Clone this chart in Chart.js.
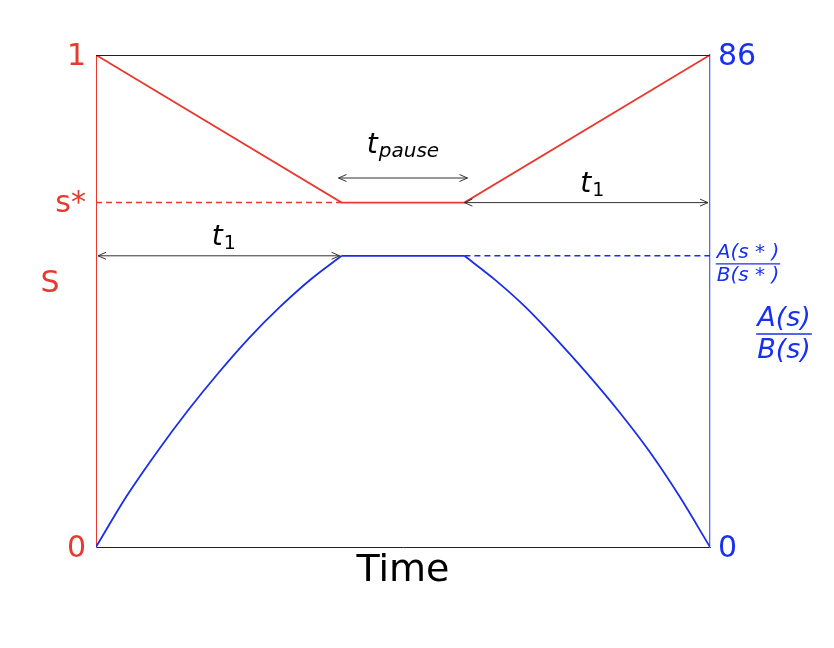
<!DOCTYPE html>
<html>
<head>
<meta charset="utf-8">
<script src="https://cdn.jsdelivr.net/npm/chart.js@4.4.1/dist/chart.umd.min.js"></script>
<style>
  html, body { margin: 0; padding: 0; background: #fff; }
  canvas { display: block; }
</style>
</head>
<body>
<canvas id="chart" width="834" height="648"></canvas>
<script>
"use strict";

// time in arbitrary units: t1 = 4, pause = 2, total = 10
const timeS = [0, 4, 6, 10];
const sValues = [1, 0.7, 0.7, 1];

const timeRatio = [0, 0.5, 1, 1.5, 2, 2.5, 3, 3.5, 4, 6, 6.5, 7, 7.5, 8, 8.5, 9, 9.5, 10];
const ratioValues = [0, 8.9, 16.7, 23.9, 30.5, 36.6, 42.0, 46.8, 50.9, 50.9, 46.7, 41.9, 36.3, 30.3, 23.9, 16.9, 8.9, 0];

const sStar = 0.7;
const ratioStar = 50.9;
const ratioMax = 86;
const t1 = 4;
const tPause = 2;
const tEnd = 10;

const leftTicks = [0, sStar, 1];
const leftTickLabels = ['0', 's*', '1'];
const rightTicks = [0, ratioStar, ratioMax];
const rightTickLabels = ['0', '', '86'];

const RED = '#e8392e';
const BLUE = '#1a2ee8';
const BLUE_TEXT = '#1830f0';

function pts(xs, ys) {
  return xs.map((x, i) => ({ x: x, y: ys[i] }));
}

// split the A/B curve: rising part, plateau, falling part
const riseEnd = timeRatio.indexOf(t1);
const fallStart = timeRatio.indexOf(t1 + tPause);
const ratioRise = pts(timeRatio.slice(0, riseEnd + 1), ratioValues.slice(0, riseEnd + 1));
const ratioFlat = pts(timeRatio.slice(riseEnd, fallStart + 1), ratioValues.slice(riseEnd, fallStart + 1));
const ratioFall = pts(timeRatio.slice(fallStart), ratioValues.slice(fallStart));

function arrow(ctx, x1, x2, y) {
  ctx.save();
  ctx.strokeStyle = '#333';
  ctx.lineWidth = 1;
  ctx.beginPath();
  ctx.moveTo(x1, y); ctx.lineTo(x2, y);
  ctx.moveTo(x1 + 8, y - 3.5); ctx.lineTo(x1, y); ctx.lineTo(x1 + 8, y + 3.5);
  ctx.moveTo(x2 - 8, y - 3.5); ctx.lineTo(x2, y); ctx.lineTo(x2 - 8, y + 3.5);
  ctx.stroke();
  ctx.restore();
}

// italic t with a subscript, centred on cx
function tLabel(ctx, sub, cx, baseline, subFont) {
  ctx.save();
  ctx.fillStyle = '#000';
  ctx.textBaseline = 'alphabetic';
  ctx.textAlign = 'left';
  ctx.font = 'italic 28px "DejaVu Sans"';
  const w1 = ctx.measureText('t').width;
  ctx.font = subFont;
  const w2 = ctx.measureText(sub).width;
  const x0 = cx - (w1 + w2 + 1) / 2;
  ctx.font = 'italic 28px "DejaVu Sans"';
  ctx.fillText('t', x0, baseline);
  ctx.font = subFont;
  ctx.fillText(sub, x0 + w1 + 1, baseline + 4);
  ctx.restore();
}

function fraction(ctx, num, den, cx, barY, size, color) {
  ctx.save();
  ctx.fillStyle = color;
  ctx.strokeStyle = color;
  ctx.font = 'italic ' + size + 'px "DejaVu Sans"';
  ctx.textAlign = 'center';
  const w = Math.max(ctx.measureText(num).width, ctx.measureText(den).width);
  ctx.lineWidth = size > 22 ? 1.6 : 1.3;
  ctx.beginPath();
  ctx.moveTo(cx - w / 2 - 1, barY); ctx.lineTo(cx + w / 2 + 1, barY);
  ctx.stroke();
  ctx.textBaseline = 'alphabetic';
  ctx.fillText(num, cx, barY - size * 0.3);
  ctx.textBaseline = 'top';
  ctx.fillText(den, cx, barY + size * 0.12);
  ctx.restore();
}

const extras = {
  id: 'extras',
  afterDatasetsDraw(chart) {
    const ctx = chart.ctx;
    const xs = chart.scales.x, ys = chart.scales.y, yr = chart.scales.y1;
    const area = chart.chartArea;

    // top frame line
    ctx.save();
    ctx.strokeStyle = '#222';
    ctx.lineWidth = 1;
    ctx.beginPath();
    ctx.moveTo(area.left, area.top + 0.5);
    ctx.lineTo(area.right, area.top + 0.5);
    ctx.stroke();
    ctx.restore();

    // duration arrows
    const yLeft = yr.getPixelForValue(ratioStar);
    arrow(ctx, xs.getPixelForValue(0) + 2, xs.getPixelForValue(t1) - 2, yLeft);
    const yRight = ys.getPixelForValue(sStar);
    arrow(ctx, xs.getPixelForValue(t1 + tPause), xs.getPixelForValue(tEnd) - 2, yRight);
    const yPause = ys.getPixelForValue(0.75);
    arrow(ctx, xs.getPixelForValue(t1 - 0.05), xs.getPixelForValue(t1 + tPause + 0.05), yPause);

    const subDigit = '19px "DejaVu Sans"';
    tLabel(ctx, '1', xs.getPixelForValue(t1 / 2) + 5, yLeft - 11, subDigit);
    tLabel(ctx, '1', xs.getPixelForValue(t1 + tPause + (tEnd - t1 - tPause) / 2) + 5, yRight - 11, subDigit);
    tLabel(ctx, 'pause', xs.getPixelForValue(t1 + tPause / 2), yPause - 25, 'italic 20px "DejaVu Sans"');

    // right side fractions
    fraction(ctx, 'A(s * )', 'B(s * )', 748, yr.getPixelForValue(ratioStar) + 8, 20, BLUE_TEXT);
    fraction(ctx, 'A(s)', 'B(s)', 784, 334, 27, BLUE_TEXT);

    // axis titles
    ctx.save();
    ctx.textAlign = 'center';
    ctx.textBaseline = 'middle';
    ctx.fillStyle = RED;
    ctx.font = '30px "DejaVu Sans"';
    ctx.fillText('S', 50, 284);
    ctx.fillStyle = '#000';
    ctx.font = '38px "DejaVu Sans"';
    ctx.fillText('Time', (area.left + area.right) / 2, 571);
    ctx.restore();
  }
};

const curveStyle = {
  yAxisID: 'y1',
  borderColor: BLUE,
  borderWidth: 1.8,
  pointRadius: 0,
  cubicInterpolationMode: 'monotone'
};

new Chart(document.getElementById('chart'), {
  type: 'line',
  data: {
    datasets: [
      {
        label: 's',
        data: pts(timeS, sValues),
        yAxisID: 'y',
        borderColor: RED,
        borderWidth: 1.8,
        pointRadius: 0,
        tension: 0
      },
      {
        label: 's* level',
        data: pts([0, t1], [sStar, sStar]),
        yAxisID: 'y',
        borderColor: RED,
        borderWidth: 1.5,
        borderDash: [6, 4],
        pointRadius: 0
      },
      Object.assign({ label: 'A(s)/B(s) rise', data: ratioRise }, curveStyle),
      Object.assign({ label: 'A(s)/B(s) pause', data: ratioFlat }, curveStyle),
      Object.assign({ label: 'A(s)/B(s) fall', data: ratioFall }, curveStyle),
      {
        label: 'A(s*)/B(s*) level',
        data: pts([t1 + tPause, tEnd], [ratioStar, ratioStar]),
        yAxisID: 'y1',
        borderColor: BLUE,
        borderWidth: 1.5,
        borderDash: [6, 4],
        pointRadius: 0
      }
    ]
  },
  options: {
    responsive: false,
    animation: false,
    devicePixelRatio: 1,
    layout: { padding: { top: 55, left: 0, right: 0, bottom: 0 } },
    plugins: {
      legend: { display: false },
      tooltip: { enabled: false }
    },
    scales: {
      x: {
        type: 'linear',
        min: 0,
        max: tEnd,
        grid: { display: false, drawTicks: false },
        border: { color: '#222', width: 1 },
        ticks: { display: false },
        afterFit(scale) { scale.height = 101; }
      },
      y: {
        position: 'left',
        min: 0,
        max: 1,
        grid: { display: false, drawTicks: false },
        border: { color: RED, width: 1 },
        afterBuildTicks(scale) { scale.ticks = leftTicks.map(v => ({ value: v })); },
        ticks: {
          color: RED,
          padding: 10,
          labelOffset: 2,
          font: { family: 'DejaVu Sans', size: 30 },
          callback: (v) => leftTickLabels[leftTicks.indexOf(v)]
        },
        afterFit(scale) { scale.width = 96; }
      },
      y1: {
        position: 'right',
        min: 0,
        max: ratioMax,
        grid: { display: false, drawTicks: false },
        border: { color: '#5a66f5', width: 1.3 },
        afterBuildTicks(scale) { scale.ticks = rightTicks.map(v => ({ value: v })); },
        ticks: {
          color: BLUE_TEXT,
          padding: 8,
          labelOffset: 2,
          font: { family: 'DejaVu Sans', size: 30 },
          callback: (v) => rightTickLabels[rightTicks.indexOf(v)]
        },
        afterFit(scale) { scale.width = 124; }
      }
    }
  },
  plugins: [extras]
});
</script>
</body>
</html>
